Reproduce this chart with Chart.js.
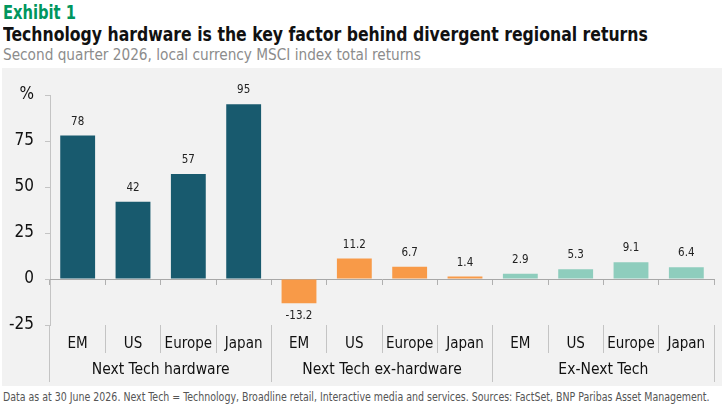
<!DOCTYPE html>
<html>
<head>
<meta charset="utf-8">
<script src="https://cdn.jsdelivr.net/npm/chart.js@4"></script>
<style>
  body { margin: 0; background: #fff; width: 725px; height: 406px; overflow: hidden; position: relative; }
  .txt { position: absolute; left: 3px; white-space: nowrap; font-family: "DejaVu Sans Condensed", "DejaVu Sans", sans-serif; font-stretch: condensed; transform-origin: 0 0; }
  #exhibit { top: 2px; font-size: 19px; line-height: 20px; font-weight: bold; color: #00965e; transform: scaleX(0.86); }
  #title { top: 24px; font-size: 19px; line-height: 20px; font-weight: bold; color: #111; transform: scaleX(0.918); }
  #subtitle { top: 46px; font-size: 16px; line-height: 18px; color: #8c8c8c; transform: scaleX(0.95); }
  #note { top: 389px; font-size: 12px; line-height: 16px; color: #555; transform: scaleX(0.875); }
  #box { position: absolute; left: 2px; top: 68px; width: 720px; height: 318px; background: #f2f2f2; }
</style>
</head>
<body>
<div class="txt" id="exhibit">Exhibit 1</div>
<div class="txt" id="title">Technology hardware is the key factor behind divergent regional returns</div>
<div class="txt" id="subtitle">Second quarter 2026, local currency MSCI index total returns</div>
<div id="box"><canvas id="myChart" width="720" height="318"></canvas></div>
<div class="txt" id="note">Data as at 30 June 2026. Next Tech = Technology, Broadline retail, Interactive media and services. Sources: FactSet, BNP Paribas Asset Management.</div>
<script>
const regions = ['EM', 'US', 'Europe', 'Japan'];
const groups = ['Next Tech hardware', 'Next Tech ex-hardware', 'Ex-Next Tech'];
const hardware = [78, 42, 57, 95];
const exHardware = [-13.2, 11.2, 6.7, 1.4];
const exNextTech = [2.9, 5.3, 9.1, 6.4];
const groupColors = ['#185a6e', '#f89a48', '#8ecdbd'];

const font = '"DejaVu Sans Condensed", "DejaVu Sans", sans-serif';
const labels = groups.flatMap(() => regions);
const values = [].concat(hardware, exHardware, exNextTech);
const colors = groupColors.flatMap(c => regions.map(() => c));

// value labels above (or below) each bar
const valueLabels = {
  id: 'valueLabels',
  afterDatasetsDraw(chart) {
    const ctx = chart.ctx;
    const meta = chart.getDatasetMeta(0);
    ctx.save();
    ctx.font = '11.5px ' + font;
    ctx.fillStyle = '#222';
    ctx.textAlign = 'center';
    meta.data.forEach((bar, i) => {
      const v = values[i];
      if (v >= 0) {
        ctx.textBaseline = 'bottom';
        ctx.fillText(String(v), bar.x, bar.y - 8);
      } else {
        ctx.textBaseline = 'top';
        ctx.fillText(String(v), bar.x, bar.y + 7);
      }
    });
    ctx.restore();
  }
};

const config = {
  type: 'bar',
  data: {
    labels: labels,
    datasets: [{
      data: values,
      backgroundColor: colors,
      borderWidth: 0,
      categoryPercentage: 1,
      barPercentage: 0.63
    }]
  },
  plugins: [valueLabels],
  options: {
    responsive: false,
    animation: false,
    layout: { padding: { top: 27, right: 8, left: 0, bottom: 0 } },
    plugins: { legend: { display: false }, tooltip: { enabled: false } },
    scales: {
      y: {
        min: -25,
        max: 100,
        afterFit: s => { s.width = 48; },
        ticks: {
          stepSize: 12.5,
          padding: 11,
          color: '#111',
          font: { family: font, size: 17 },
          callback: v => v === 100 ? '%' : (v % 25 === 0 ? v : '')
        },
        grid: { drawOnChartArea: false, tickLength: 5, color: '#c4c4c4' },
        border: { color: '#c4c4c4' }
      },
      x: {
        position: 'bottom',
        afterFit: s => { s.height = 28; },
        ticks: { padding: -18, color: '#111', font: { family: font, size: 15 }, maxRotation: 0, autoSkip: false },
        grid: { offset: true, drawOnChartArea: false, tickLength: 28, color: '#c4c4c4' },
        border: { display: false }
      },
      groupAxis: {
        type: 'category',
        axis: 'x',
        position: 'bottom',
        labels: groups,
        afterFit: s => { s.height = 33; },
        ticks: { padding: -21, color: '#111', font: { family: font, size: 15.5 }, maxRotation: 0 },
        grid: { offset: true, drawOnChartArea: false, tickLength: 29, color: '#c4c4c4' },
        border: { display: false }
      },
      zeroAxis: {
        type: 'category',
        axis: 'x',
        position: { y: 0 },
        labels: labels,
        ticks: { display: false },
        grid: { offset: true, drawOnChartArea: false, tickLength: 5, color: '#b0b0b0' },
        border: { color: '#a8a8a8' }
      }
    }
  }
};

var myChart = new Chart(
  document.getElementById('myChart'),
  config
);
</script>
</body>
</html>
